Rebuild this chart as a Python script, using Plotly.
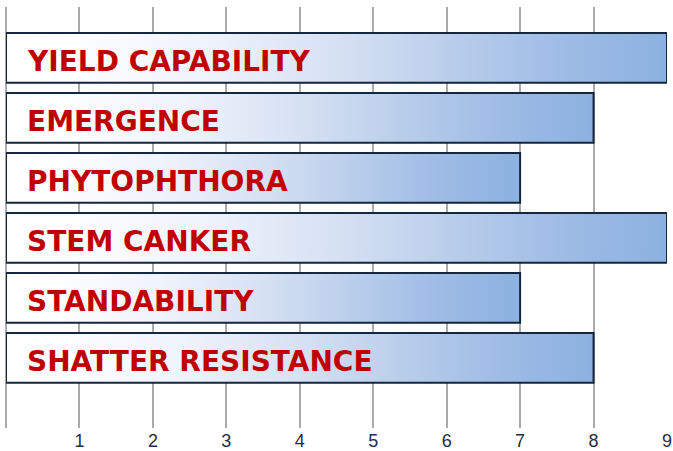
import plotly.graph_objects as go

categories = ["YIELD CAPABILITY", "EMERGENCE", "PHYTOPHTHORA", "STEM CANKER",
              "STANDABILITY", "SHATTER RESISTANCE"]
values = [9, 8, 7, 9, 7, 8]
tick_values = [1, 2, 3, 4, 5, 6, 7, 8, 9]
tick_labels = ["1", "2", "3", "4", "5", "6", "7", "8", "9"]

BAR_H = 0.83
gradient = [[0.0, "#ffffff"], [0.1, "#fdfeff"], [0.3, "#eff3fb"],
            [0.5, "#d6e1f3"], [0.7, "#b5cbea"], [0.85, "#9dbbe5"],
            [1.0, "#8cb1e0"]]

fig = go.Figure()
for i, (cat, v) in enumerate(zip(categories, values)):
    y0, y1 = i - BAR_H / 2, i + BAR_H / 2
    fig.add_trace(go.Scatter(
        x=[0, v, v, 0, 0], y=[y0, y0, y1, y1, y0],
        mode="lines", fill="toself",
        fillgradient=dict(type="horizontal", colorscale=gradient),
        line=dict(color="#15263f", width=2),
        hoverinfo="text", text=f"{cat}: {v}", showlegend=False,
    ))
    fig.add_annotation(
        x=0.26, y=i, xref="x", yref="y", text=cat, showarrow=False,
        xanchor="left", yanchor="middle", yshift=-4,
        font=dict(family="DejaVu Sans", size=28, color="#c00000", weight="bold"),
    )

fig.update_layout(
    width=673, height=451,
    margin=dict(l=6, r=6, t=7, b=23, autoexpand=False),
    paper_bgcolor="white", plot_bgcolor="white",
    xaxis=dict(range=[0, 9], tickvals=tick_values, ticktext=tick_labels,
               showgrid=True, gridcolor="#ababab", gridwidth=2,
               zeroline=True, zerolinecolor="#ababab", zerolinewidth=2,
               showline=False, ticks="", ticklabeloverflow="allow",
               automargin=False,
               tickfont=dict(family="Liberation Sans", size=18, color="#1f2d45"),
               fixedrange=True),
    yaxis=dict(range=[6.17, -0.85], showgrid=False, zeroline=False,
               showticklabels=False, ticks="", fixedrange=True, automargin=False),
)

fig.write_html("out.html",
               config={"responsive": False, "displayModeBar": False},
               post_script="document.body.style.margin='0';document.body.style.overflow='hidden';")
